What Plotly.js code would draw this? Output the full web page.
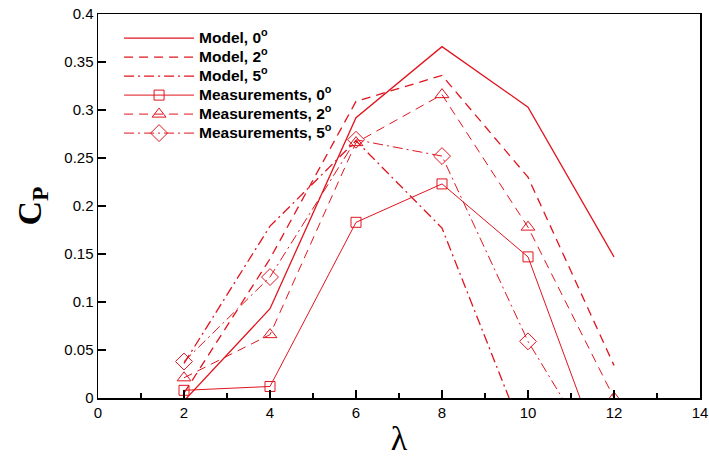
<!DOCTYPE html>
<html>
<head>
<meta charset="utf-8">
<script src="https://cdn.plot.ly/plotly-3.0.1.min.js"></script>
<style>
  html, body { margin: 0; padding: 0; background: #fff; }
  #chart { width: 709px; height: 457px; }
</style>
</head>
<body>
<div id="chart"></div>
<script>
// Tip speed ratio
const lambda = [2, 4, 6, 8, 10, 12];

// Power coefficient, model predictions
const model0 = [-0.003, 0.093, 0.292, 0.366, 0.303, 0.147];
const model2 = [0.005, 0.145, 0.309, 0.336, 0.230, 0.034];
const model5 = [0.036, 0.179, 0.268, 0.177, -0.050, -0.150];

// Power coefficient, measurements
const meas0 = [0.008, 0.012, 0.183, 0.223, 0.147, -0.096];
const meas2 = [0.021, 0.066, 0.266, 0.316, 0.178, 0.000];
const meas5 = [0.038, 0.126, 0.269, 0.252, 0.059, -0.089];

const seriesNames = [
  'Model, 0<sup>o</sup>',
  'Model, 2<sup>o</sup>',
  'Model, 5<sup>o</sup>',
  'Measurements, 0<sup>o</sup>',
  'Measurements, 2<sup>o</sup>',
  'Measurements, 5<sup>o</sup>'
];

const red = '#e0141e';
const dashStyle = '9px,6px';
const dashDotStyle = '10px,4px,2px,4px';

// legend rows are packed tightly; the label itself is set a little larger
function legendLabel(name) {
  return '<span style="font-size:15.5px">' + name + '</span>';
}

function lineTrace(y, name, dash) {
  return {
    x: lambda, y: y, name: legendLabel(name), type: 'scatter', mode: 'lines',
    line: { color: red, width: 1.3, dash: dash },
    cliponaxis: true
  };
}

function markerTrace(y, name, dash, symbol, size) {
  return {
    x: lambda, y: y, name: legendLabel(name), type: 'scatter', mode: 'lines+markers',
    line: { color: red, width: 1, dash: dash },
    marker: { symbol: symbol, size: size, color: red, line: { color: red, width: 1 } },
    cliponaxis: true
  };
}

const traces = [
  lineTrace(model0, seriesNames[0], 'solid'),
  lineTrace(model2, seriesNames[1], dashStyle),
  lineTrace(model5, seriesNames[2], dashDotStyle),
  markerTrace(meas0, seriesNames[3], 'solid', 'square-open', 10),
  markerTrace(meas2, seriesNames[4], dashStyle, 'triangle-up-open', 12),
  markerTrace(meas5, seriesNames[5], dashDotStyle, 'diamond-open', 13)
];

const tickFont = { family: 'Liberation Sans, Arial, sans-serif', size: 15, color: '#000' };

const layout = {
  width: 709,
  height: 457,
  margin: { l: 98, r: 9, t: 14, b: 59 },
  paper_bgcolor: '#fff',
  plot_bgcolor: '#fff',
  showlegend: true,
  legend: {
    x: 0.035, y: 0.975, xanchor: 'left', yanchor: 'top',
    bgcolor: 'rgba(0,0,0,0)',
    font: { family: 'Liberation Sans, Arial, sans-serif', size: 12, color: '#000', weight: 'bold' },
    itemwidth: 70,
    tracegroupgap: 0
  },
  xaxis: {
    range: [0, 14],
    dtick: 2,
    tick0: 0,
    showgrid: false,
    zeroline: false,
    showline: true,
    mirror: true,
    linecolor: '#000',
    linewidth: 1.5,
    ticks: 'inside',
    ticklen: 8,
    tickwidth: 1.5,
    tickcolor: '#000',
    tickfont: tickFont,
    minor: { dtick: 1, ticks: 'inside', ticklen: 5, tickwidth: 1.2, tickcolor: '#000', showgrid: false },
    title: { text: 'λ', font: { family: 'Liberation Serif, Times New Roman, serif', size: 34, color: '#000' }, standoff: 6 }
  },
  yaxis: {
    range: [0, 0.4],
    dtick: 0.05,
    tick0: 0,
    showgrid: false,
    zeroline: false,
    showline: true,
    mirror: true,
    linecolor: '#000',
    linewidth: 1.5,
    ticks: 'inside',
    ticklen: 8,
    tickwidth: 1.5,
    tickcolor: '#000',
    tickfont: tickFont,
    title: { text: 'C<sub>P</sub>', font: { family: 'Liberation Serif, Times New Roman, serif', size: 34, color: '#000', weight: 'bold' }, standoff: 12 }
  }
};

Plotly.newPlot('chart', traces, layout, { staticPlot: true, displayModeBar: false });
</script>
</body>
</html>
